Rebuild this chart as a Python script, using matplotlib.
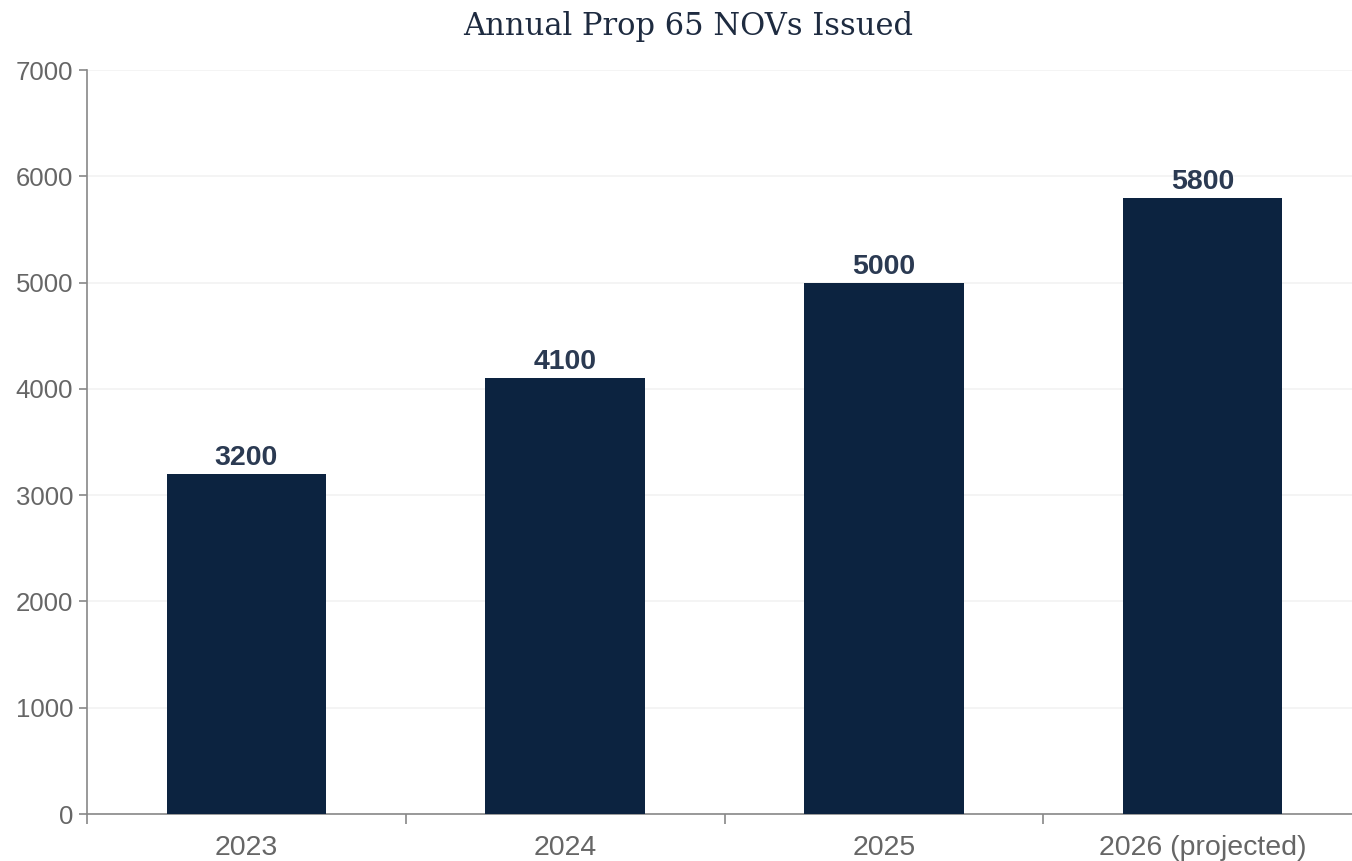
import matplotlib
matplotlib.use("Agg")
import matplotlib.pyplot as plt
import numpy as np

categories = ["2023", "2024", "2025", "2026 (projected)"]
values = [3200, 4100, 5000, 5800]
yticks = [0, 1000, 2000, 3000, 4000, 5000, 6000, 7000]
title = "Annual Prop 65 NOVs Issued"

W, H = 1352, 861
fig = plt.figure(figsize=(W / 100, H / 100), dpi=100)
ax = fig.add_axes([87 / W, 47 / H, (1362 - 87) / W, (814 - 70) / H])

x = np.arange(len(categories))
bar_color = "#0c2340"
ax.bar(x, values, width=0.5, color=bar_color, zorder=3)

for xi, v in zip(x, values):
    ax.annotate(f"{v}", (xi, v), xytext=(0, 2), textcoords="offset points",
                ha="center", va="bottom", fontsize=20.5, fontweight="bold",
                color="#2b3a52", family="Liberation Sans", zorder=4)

ax.set_xlim(-0.5, len(categories) - 0.5)
ax.set_ylim(0, 7000)
ax.set_yticks(yticks)
ax.set_yticklabels([str(t) for t in yticks])

ax.set_xticks(np.arange(len(categories) + 1) - 0.5)
ax.set_xticklabels([])
ax.set_xticks(x, minor=True)
ax.set_xticklabels(categories, minor=True)
ax.tick_params(axis="x", which="minor", length=0, pad=15)
ax.tick_params(axis="x", which="major", length=7, width=1.2, color="#888888", direction="out")
ax.tick_params(axis="y", which="major", length=6, width=1.2, color="#888888", direction="out", pad=4)

for lab in ax.get_xticklabels(minor=True):
    lab.set_fontsize(20.5)
    lab.set_color("#666666")
    lab.set_family("Liberation Sans")
for lab in ax.get_yticklabels():
    lab.set_fontsize(18.5)
    lab.set_color("#666666")
    lab.set_family("Liberation Sans")

ax.yaxis.grid(True, color="#f2f2f2", linewidth=1.2, zorder=0)
ax.set_axisbelow(True)

for s in ["top", "right"]:
    ax.spines[s].set_visible(False)
for s in ["left", "bottom"]:
    ax.spines[s].set_color("#888888")
    ax.spines[s].set_linewidth(1.2)

fig.text(688 / W, 1 - 26 / H, title, ha="center", va="center",
         fontsize=22, color="#1e2b40", family="DejaVu Serif")

fig.savefig("out.png", dpi=100, facecolor="white")
